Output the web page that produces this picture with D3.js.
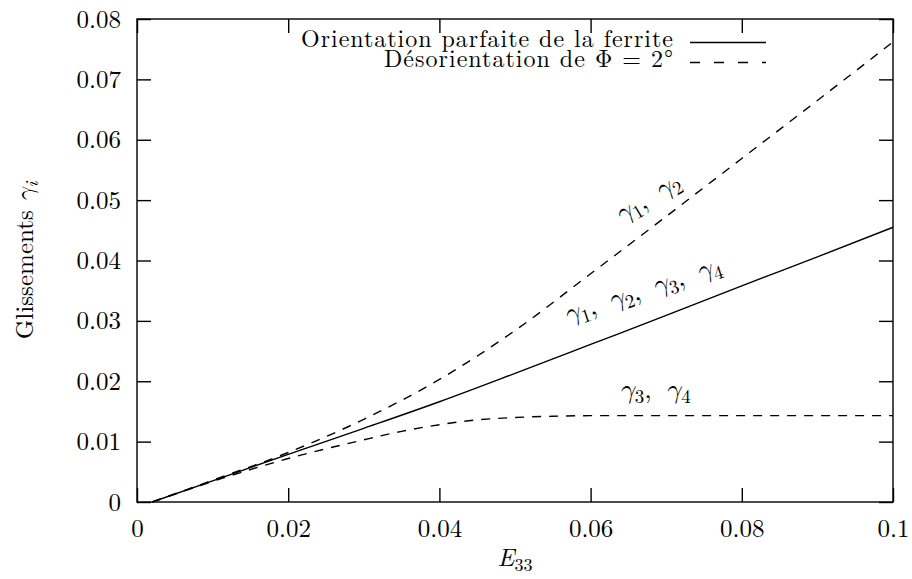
<!DOCTYPE html>
<html>
<head>
<meta charset="utf-8">
<script src="https://cdn.jsdelivr.net/npm/d3@7"></script>
<style>
html, body { margin: 0; padding: 0; background: #fff; }
svg { display: block; }
</style>
</head>
<body>
<svg id="chart" width="912" height="579"></svg>
<script>
// ---- data ----
const xTicks = [0, 0.02, 0.04, 0.06, 0.08, 0.1];
const xTickLabels = ["0", "0.02", "0.04", "0.06", "0.08", "0.1"];
const yTicks = [0, 0.01, 0.02, 0.03, 0.04, 0.05, 0.06, 0.07, 0.08];
const yTickLabels = ["0", "0.01", "0.02", "0.03", "0.04", "0.05", "0.06", "0.07", "0.08"];

const perfectE33 = [0.002, 0.01, 0.02, 0.03, 0.04, 0.05, 0.06, 0.07, 0.08, 0.09, 0.1];
const perfectGamma = [0, 0.0035, 0.0079, 0.0122, 0.0166, 0.0213, 0.0261, 0.0309, 0.0358, 0.0406, 0.0455];

const misG12E33 = [0.002, 0.01, 0.02, 0.03, 0.04, 0.05, 0.06, 0.07, 0.08, 0.09, 0.1];
const misG12Gamma = [0, 0.0036, 0.0082, 0.0137, 0.0203, 0.0284, 0.0378, 0.0473, 0.0569, 0.0665, 0.0762];

const misG34E33 = [0.002, 0.01, 0.02, 0.03, 0.035, 0.04, 0.045, 0.05, 0.055, 0.06, 0.07, 0.08, 0.09, 0.1];
const misG34Gamma = [0, 0.0034, 0.0072, 0.0103, 0.0117, 0.0128, 0.0136, 0.0140, 0.0142, 0.0143, 0.0143, 0.0143, 0.0143, 0.0143];

const legendLabels = ["Orientation parfaite de la ferrite", "Désorientation de Φ = 2°"];

// ---- layout ----
const FONT = "\"Latin Modern Roman\"";
const MATH = "\"Latin Modern Math\", \"Latin Modern Roman\"";
const svg = d3.select("#chart");
const L = 137, R = 893, T = 19, B = 502;
const x = d3.scaleLinear().domain([0, 0.1]).range([L, R]);
const y = d3.scaleLinear().domain([0, 0.08]).range([B, T]);
const tickLen = 14;
const fs = 25;
const sfs = 18;

function styleText(sel, size) {
  return sel.style("font-family", FONT).style("font-size", size + "px").attr("fill", "#000");
}

// frame
svg.append("rect").attr("x", L).attr("y", T).attr("width", R - L).attr("height", B - T)
  .attr("fill", "none").attr("stroke", "#000").attr("stroke-width", 1.4);

// axes (ticks inward) using d3 axes
const axB = svg.append("g").attr("transform", `translate(0,${B})`)
  .call(d3.axisBottom(x).tickValues(xTicks).tickSize(-tickLen).tickPadding(18)
    .tickFormat((d, i) => xTickLabels[i]));
const axT = svg.append("g").attr("transform", `translate(0,${T})`)
  .call(d3.axisTop(x).tickValues(xTicks).tickSize(-tickLen).tickFormat(""));
const axL = svg.append("g").attr("transform", `translate(${L},0)`)
  .call(d3.axisLeft(y).tickValues(yTicks).tickSize(-tickLen).tickPadding(16)
    .tickFormat((d, i) => yTickLabels[i]));
const axRt = svg.append("g").attr("transform", `translate(${R},0)`)
  .call(d3.axisRight(y).tickValues(yTicks).tickSize(-tickLen).tickFormat(""));
[axB, axT, axL, axRt].forEach(g => {
  g.attr("font-family", null).attr("font-size", null);
  g.select(".domain").remove();
  g.selectAll(".tick line").attr("stroke", "#000").attr("stroke-width", 1.4);
  styleText(g.selectAll(".tick text"), fs);
});
axL.selectAll(".tick text").attr("dy", "0.32em");
axB.selectAll(".tick text").attr("dy", "0.68em");
axT.selectAll(".tick text").remove();
axRt.selectAll(".tick text").remove();

// curves
const line = d3.line().x(d => x(d[0])).y(d => y(d[1])).curve(d3.curveMonotoneX);
const zip = (a, b) => a.map((v, i) => [v, b[i]]);
const gPlot = svg.append("g");
gPlot.append("path").datum(zip(perfectE33, perfectGamma)).attr("d", line)
  .attr("fill", "none").attr("stroke", "#000").attr("stroke-width", 1.4);
gPlot.append("path").datum(zip(misG12E33, misG12Gamma)).attr("d", line)
  .attr("fill", "none").attr("stroke", "#000").attr("stroke-width", 1.4)
  .attr("stroke-dasharray", "9,8");
gPlot.append("path").datum(zip(misG34E33, misG34Gamma)).attr("d", line)
  .attr("fill", "none").attr("stroke", "#000").attr("stroke-width", 1.4)
  .attr("stroke-dasharray", "9,8");

// legend
const legTextX = 673;
const legRows = [{ y: 47, dash: null, len: 372 }, { y: 67, dash: "10,14", len: 289 }];
legRows.forEach((r, i) => {
  styleText(svg.append("text"), 24).attr("x", legTextX).attr("y", r.y).attr("text-anchor", "end")
    .attr("textLength", r.len).attr("lengthAdjust", "spacing")
    .text(legendLabels[i]);
  const ly = r.y - 4.5;
  const ln = svg.append("line").attr("x1", 690).attr("x2", 766).attr("y1", ly).attr("y2", ly)
    .attr("stroke", "#000").attr("stroke-width", 1.4);
  if (r.dash) ln.attr("stroke-dasharray", r.dash);
});

// gamma labels helper
function gammaLabel(cx, cy, angle, subs) {
  const t = styleText(svg.append("text"), 27)
    .attr("transform", `translate(${cx},${cy}) rotate(${angle})`)
    .attr("text-anchor", "middle");
  subs.forEach((s, i) => {
    t.append("tspan").style("font-family", MATH).attr("font-style", "italic").text("γ");
    t.append("tspan").style("font-size", "19px").attr("dy", 5).text(s);
    t.append("tspan").attr("dy", -5).text(i < subs.length - 1 ? ",\u2002" : "");
  });
}
gammaLabel(x(0.0681), y(0.0492), -31, ["1", "2"]);
gammaLabel(x(0.0672), y(0.0338), -18, ["1", "2", "3", "4"]);
gammaLabel(x(0.0685), y(0.0172), 0, ["3", "4"]);

// axis titles
const xt = styleText(svg.append("text"), fs).attr("x", (L + R) / 2).attr("y", 566)
  .attr("text-anchor", "middle");
xt.append("tspan").attr("font-style", "italic").text("E");
xt.append("tspan").style("font-size", sfs + "px").attr("dy", 5).text("33");

const yt = styleText(svg.append("text"), fs)
  .attr("transform", `translate(33,${(T + B) / 2}) rotate(-90)`)
  .attr("text-anchor", "middle");
yt.append("tspan").text("Glissements ");
yt.append("tspan").style("font-family", MATH).attr("font-style", "italic").text("γ");
yt.append("tspan").style("font-size", sfs + "px").attr("dy", 5).attr("font-style", "italic").text("i");
</script>
</body>
</html>
